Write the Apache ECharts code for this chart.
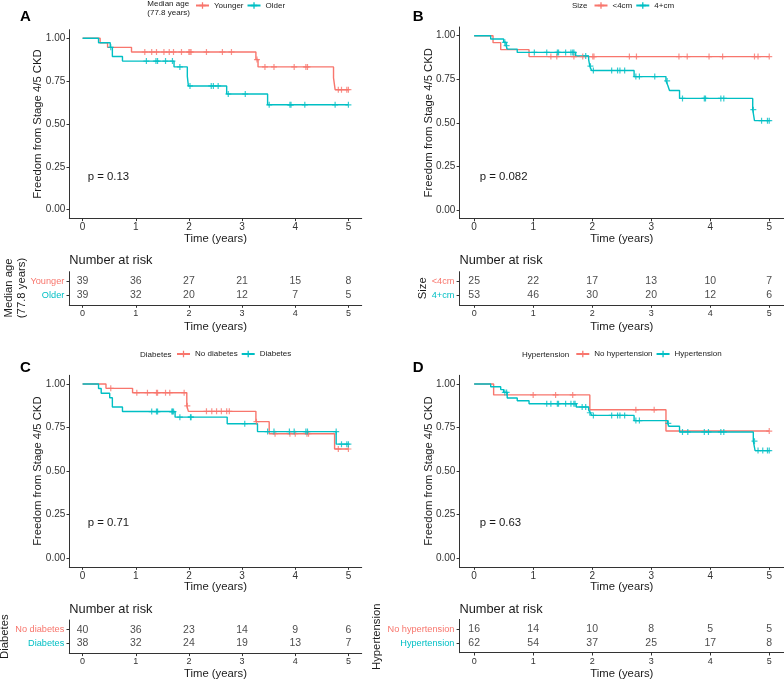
<!DOCTYPE html>
<html>
<head>
<meta charset="utf-8">
<script src="https://cdn.jsdelivr.net/npm/echarts@6/dist/echarts.min.js"></script>
<style>
html,body{margin:0;padding:0;background:#fff;}
#chart{width:784px;height:681px;}
</style>
</head>
<body>
<div id="chart"></div>
<script>
// ---------- data ----------
const timeTicks = [0, 1, 2, 3, 4, 5];
const survTicks = [0, 0.25, 0.5, 0.75, 1];

// Panel A: Median age
const aGroups = ['Younger', 'Older'];
const aYoungerSteps = [[0,1],[0.33,0.974],[0.47,0.947],[0.92,0.92],[3.26,0.876],[3.30,0.833],[4.72,0.769],[4.75,0.70],[5.0,0.70]];
const aYoungerCensor = [[1.17,0.92],[1.30,0.92],[1.39,0.92],[1.53,0.92],[1.63,0.92],[1.71,0.92],[1.86,0.92],[2.00,0.92],[2.02,0.92],[2.04,0.92],[2.33,0.92],[2.63,0.92],[2.80,0.92],[3.28,0.876],[3.43,0.833],[3.60,0.833],[3.98,0.833],[4.20,0.833],[4.23,0.833],[4.81,0.70],[4.87,0.70],[4.97,0.70],[5.0,0.70]];
const aOlderSteps = [[0,1],[0.30,0.974],[0.52,0.947],[0.56,0.894],[0.75,0.867],[1.72,0.833],[1.97,0.778],[1.99,0.722],[2.71,0.675],[3.48,0.612],[5.0,0.612]];
const aOlderCensor = [[0.53,0.947],[1.20,0.867],[1.38,0.867],[1.41,0.867],[1.56,0.867],[1.69,0.867],[1.83,0.833],[2.02,0.722],[2.42,0.722],[2.46,0.722],[2.55,0.722],[2.74,0.675],[3.06,0.675],[3.51,0.612],[3.90,0.612],[3.92,0.612],[4.18,0.612],[4.75,0.612],[5.0,0.612]];
const aYoungerRisk = [39, 36, 27, 21, 15, 8];
const aOlderRisk = [39, 32, 20, 12, 7, 5];

// Panel B: Size
const bGroups = ['<4cm', '4+cm'];
const bSmallSteps = [[0,1],[0.32,0.96],[0.45,0.92],[0.93,0.88],[5.0,0.88]];
const bSmallCensor = [[1.30,0.88],[1.40,0.88],[1.69,0.88],[1.84,0.88],[2.01,0.88],[2.03,0.88],[2.63,0.88],[2.75,0.88],[3.47,0.88],[3.61,0.88],[3.98,0.88],[4.21,0.88],[4.75,0.88],[4.81,0.88],[5.0,0.88]];
const bLargeSteps = [[0,1],[0.28,0.981],[0.50,0.962],[0.54,0.943],[0.56,0.923],[0.73,0.904],[1.72,0.884],[1.94,0.862],[1.96,0.825],[1.99,0.80],[2.71,0.765],[3.25,0.74],[3.28,0.715],[3.31,0.685],[3.48,0.64],[4.72,0.575],[4.75,0.512],[5.0,0.512]];
const bLargeCensor = [[0.52,0.962],[0.55,0.943],[1.02,0.904],[1.23,0.904],[1.41,0.904],[1.43,0.904],[1.55,0.904],[1.64,0.904],[1.67,0.904],[1.69,0.904],[1.89,0.884],[1.97,0.825],[2.02,0.80],[2.33,0.80],[2.43,0.80],[2.47,0.80],[2.55,0.80],[2.74,0.765],[2.80,0.765],[3.06,0.765],[3.27,0.74],[3.53,0.64],[3.90,0.64],[3.92,0.64],[4.18,0.64],[4.23,0.64],[4.73,0.575],[4.87,0.512],[4.97,0.512],[5.0,0.512]];
const bSmallRisk = [25, 22, 17, 13, 10, 7];
const bLargeRisk = [53, 46, 30, 20, 12, 6];

// Panel C: Diabetes
const cGroups = ['No diabetes', 'Diabetes'];
const cNoSteps = [[0,1],[0.44,0.975],[0.94,0.95],[1.96,0.875],[1.99,0.843],[3.26,0.784],[3.51,0.715],[4.74,0.627],[5.0,0.627]];
const cNoCensor = [[0.53,0.975],[1.02,0.95],[1.22,0.95],[1.39,0.95],[1.41,0.95],[1.56,0.95],[1.64,0.95],[1.91,0.95],[1.97,0.875],[2.33,0.843],[2.43,0.843],[2.52,0.843],[2.61,0.843],[2.71,0.843],[2.76,0.843],[3.27,0.784],[3.62,0.715],[3.90,0.715],[4.0,0.715],[4.22,0.715],[4.25,0.715],[4.81,0.627],[5.0,0.627]];
const cDiabSteps = [[0,1],[0.30,0.974],[0.35,0.947],[0.51,0.921],[0.56,0.868],[0.75,0.842],[1.74,0.81],[2.72,0.772],[3.29,0.727],[4.77,0.655],[5.0,0.655]];
const cDiabCensor = [[1.30,0.842],[1.39,0.842],[1.41,0.842],[1.68,0.842],[1.69,0.842],[1.71,0.842],[1.83,0.81],[2.03,0.81],[2.04,0.81],[3.05,0.772],[3.48,0.727],[3.60,0.727],[3.89,0.727],[3.98,0.727],[4.20,0.727],[4.23,0.727],[4.77,0.727],[4.87,0.655],[4.97,0.655],[5.0,0.655]];
const cNoRisk = [40, 36, 23, 14, 9, 6];
const cDiabRisk = [38, 32, 24, 19, 13, 7];

// Panel D: Hypertension
const dGroups = ['No hypertension', 'Hypertension'];
const dNoSteps = [[0,1],[0.33,0.9375],[1.96,0.852],[3.25,0.73],[5.0,0.73]];
const dNoCensor = [[1.0,0.9375],[1.38,0.9375],[1.67,0.9375],[2.74,0.852],[3.05,0.852],[5.0,0.73]];
const dHypSteps = [[0,1],[0.28,0.984],[0.45,0.968],[0.50,0.952],[0.56,0.92],[0.73,0.904],[0.93,0.887],[1.73,0.868],[1.94,0.85],[1.97,0.835],[1.99,0.82],[2.71,0.79],[3.28,0.774],[3.30,0.758],[3.48,0.725],[4.73,0.672],[4.76,0.618],[5.0,0.618]];
const dHypCensor = [[0.52,0.952],[0.55,0.952],[1.23,0.887],[1.30,0.887],[1.41,0.887],[1.43,0.887],[1.55,0.887],[1.64,0.887],[1.69,0.887],[1.71,0.887],[1.83,0.868],[1.89,0.868],[1.96,0.835],[2.02,0.82],[2.33,0.82],[2.43,0.82],[2.47,0.82],[2.55,0.82],[2.74,0.79],[2.80,0.79],[3.29,0.774],[3.53,0.725],[3.62,0.725],[3.90,0.725],[3.97,0.725],[4.18,0.725],[4.23,0.725],[4.75,0.672],[4.81,0.618],[4.89,0.618],[4.97,0.618],[5.0,0.618]];
const dNoRisk = [16, 14, 10, 8, 5, 5];
const dHypRisk = [62, 54, 37, 25, 17, 8];

const pValues = ['p = 0.13', 'p = 0.082', 'p = 0.71', 'p = 0.63'];
const panelLetters = ['A', 'B', 'C', 'D'];
const legendTitles = ['Median age\n(77.8 years)', 'Size', 'Diabetes', 'Hypertension'];
const riskTitles = ['Median age\n(77.8 years)', 'Size', 'Diabetes', 'Hypertension'];
const yTitle = 'Freedom from Stage 4/5 CKD';
const xTitle = 'Time (years)';
const riskHeader = 'Number at risk';

// ---------- styling / layout ----------
const FONT = '"Liberation Sans", Arial, Helvetica, sans-serif';
const RED = '#F8766D', TEAL = '#00BFC4';
const INK = '#1a1a1a', AXIS = '#333333';
const PLUS = 'path://M0,4H10V6H0Z M4,0H6V10H4Z';

const panels = [
  { groups: aGroups, steps: [aYoungerSteps, aOlderSteps], censor: [aYoungerCensor, aOlderCensor], risk: [aYoungerRisk, aOlderRisk],
    km: {left: 69.3, top: 29.7, width: 292.4, height: 188.6}, rk: {left: 69.3, top: 271.7, width: 292.4, height: 33.3},
    legend: {left: 195, top: 1.5}, legendTitle: {x: 147.3, y: 8.2}, letter: {x: 20, y: 17.3}, p: {x: 87.7, y: 176.7},
    yTitle: {x: 38.3}, xTitleY: 239, riskHeaderY: 260.7, riskXTitleY: 326.7, riskTitle: {x: 15, y: 288} },
  { groups: bGroups, steps: [bSmallSteps, bLargeSteps], censor: [bSmallCensor, bLargeCensor], risk: [bSmallRisk, bLargeRisk],
    km: {left: 459.4, top: 27, width: 324.9, height: 191.5}, rk: {left: 459.4, top: 271.7, width: 324.9, height: 33.3},
    legend: {left: 593.5, top: 1.5}, legendTitle: {x: 572, y: 5.7}, letter: {x: 412.7, y: 17.3}, p: {x: 479.7, y: 176.7},
    yTitle: {x: 428.7}, xTitleY: 239, riskHeaderY: 260.7, riskXTitleY: 326.7, riskTitle: {x: 422.7, y: 288.3} },
  { groups: cGroups, steps: [cNoSteps, cDiabSteps], censor: [cNoCensor, cDiabCensor], risk: [cNoRisk, cDiabRisk],
    km: {left: 69.3, top: 375.3, width: 292.4, height: 191.7}, rk: {left: 69.3, top: 620, width: 292.4, height: 33.3},
    legend: {left: 176, top: 350}, legendTitle: {x: 140, y: 354.3}, letter: {x: 20, y: 368.3}, p: {x: 87.7, y: 523.3},
    yTitle: {x: 38.3}, xTitleY: 587.3, riskHeaderY: 609.3, riskXTitleY: 674.3, riskTitle: {x: 5, y: 636.7} },
  { groups: dGroups, steps: [dNoSteps, dHypSteps], censor: [dNoCensor, dHypCensor], risk: [dNoRisk, dHypRisk],
    km: {left: 459.4, top: 375.3, width: 324.9, height: 191.7}, rk: {left: 459.4, top: 619.4, width: 324.9, height: 33.3},
    legend: {left: 575.3, top: 350}, legendTitle: {x: 522, y: 354.3}, letter: {x: 412.7, y: 368.3}, p: {x: 479.7, y: 523.3},
    yTitle: {x: 428.7}, xTitleY: 587.3, riskHeaderY: 609.3, riskXTitleY: 674.3, riskTitle: {x: 376.7, y: 636.7} }
];

const colors = [RED, TEAL];
const grid = [], xAxis = [], yAxis = [], series = [], legend = [], graphic = [];

function txt(x, y, text, size, opts) {
  opts = opts || {};
  const align = opts.align || 'left';
  return {
    type: 'text', x: x, y: y, rotation: opts.rotation || 0, silent: true, z: 100,
    style: {
      text: text, fontSize: size, fontFamily: FONT, fontWeight: opts.bold ? 'bold' : 'normal',
      fill: opts.color || INK, align: align, verticalAlign: 'middle',
      textAlign: align, textVerticalAlign: 'middle', lineHeight: opts.lineHeight || size * 1.15
    }
  };
}

panels.forEach((p, i) => {
  const gKM = 2 * i, gRK = 2 * i + 1;
  grid.push(Object.assign({containLabel: false}, p.km));
  grid.push(Object.assign({containLabel: false}, p.rk));

  const axisLine = {show: true, onZero: false, lineStyle: {color: AXIS, width: 1}};
  const mkX = (gi, fs, margin) => ({
    type: 'value', gridIndex: gi, min: -0.25, max: 5.25, position: 'bottom',
    axisLine: axisLine, splitLine: {show: false},
    axisTick: {show: true, length: 2.8, customValues: timeTicks, lineStyle: {color: AXIS}},
    axisLabel: {customValues: timeTicks, fontSize: fs, fontFamily: FONT, color: AXIS, margin: margin}
  });
  xAxis.push(mkX(gKM, 10, 4));
  xAxis.push(mkX(gRK, 9, 4));

  yAxis.push({
    type: 'value', gridIndex: gKM, min: -0.05, max: 1.05, position: 'left',
    axisLine: axisLine, splitLine: {show: false},
    axisTick: {show: true, length: 2.8, customValues: survTicks, lineStyle: {color: AXIS}},
    axisLabel: {customValues: survTicks, fontSize: 10, fontFamily: FONT, color: AXIS, margin: 4,
      formatter: v => Number(v).toFixed(2)}
  });
  const g0 = p.groups[0], g1 = p.groups[1];
  yAxis.push({
    type: 'value', gridIndex: gRK, min: -0.7, max: 1.7, position: 'left',
    axisLine: axisLine, splitLine: {show: false},
    axisTick: {show: true, length: 2.8, customValues: [0, 1], lineStyle: {color: AXIS}},
    axisLabel: {customValues: [0, 1], margin: 5, fontFamily: FONT,
      formatter: v => (Number(v) === 1 ? '{a|' + g0 + '}' : '{b|' + g1 + '}'),
      rich: {a: {color: RED, fontSize: 9.2, fontFamily: FONT}, b: {color: TEAL, fontSize: 9.2, fontFamily: FONT}}}
  });

  [0, 1].forEach(k => {
    series.push({
      name: p.groups[k], type: 'line', step: 'end', xAxisIndex: gKM, yAxisIndex: gKM,
      data: p.steps[k], showSymbol: false, symbol: PLUS, symbolSize: 6,
      lineStyle: {color: colors[k], width: 1.4}, itemStyle: {color: colors[k]},
      animation: false, silent: true, z: 2 + k
    });
  });
  [0, 1].forEach(k => {
    series.push({
      name: p.groups[k] + ' censored', type: 'scatter', xAxisIndex: gKM, yAxisIndex: gKM,
      data: p.censor[k], symbol: PLUS, symbolSize: 6,
      itemStyle: {color: colors[k]}, animation: false, silent: true, z: 4 + k
    });
  });
  const riskData = [];
  timeTicks.forEach((t, j) => {
    riskData.push([t, 1, p.risk[0][j]]);
    riskData.push([t, 0, p.risk[1][j]]);
  });
  series.push({
    name: 'risk' + i, type: 'scatter', xAxisIndex: gRK, yAxisIndex: gRK,
    data: riskData, symbolSize: 0, animation: false, silent: true,
    label: {show: true, position: 'inside', formatter: q => String(q.value[2]),
      fontSize: 10.5, fontFamily: FONT, color: INK}
  });

  legend.push({
    data: p.groups, left: p.legend.left, top: p.legend.top, orient: 'horizontal',
    itemWidth: 13, itemHeight: 8, itemGap: 3, padding: 0, selectedMode: false,
    textStyle: {fontSize: 8, fontFamily: FONT, color: INK, padding: [0, 0, 0, 0]}
  });

  // texts
  graphic.push(txt(p.legendTitle.x, p.legendTitle.y, legendTitles[i], 8, {lineHeight: 9.2}));
  graphic.push(txt(p.letter.x, p.letter.y, panelLetters[i], 15, {bold: true, color: '#000'}));
  graphic.push(txt(p.p.x, p.p.y, pValues[i], 11.4));
  const kmMidY = p.km.top + p.km.height / 2;
  graphic.push(txt(p.yTitle.x, kmMidY, yTitle, 11.3, {align: 'center', rotation: Math.PI / 2}));
  const xMid = p.km.left + p.km.width / 2;
  graphic.push(txt(xMid, p.xTitleY, xTitle, 11.3, {align: 'center'}));
  graphic.push(txt(p.rk.left, p.riskHeaderY, riskHeader, 12.8));
  graphic.push(txt(xMid, p.riskXTitleY, xTitle, 11.3, {align: 'center'}));
  graphic.push(txt(p.riskTitle.x, p.riskTitle.y, riskTitles[i], 11.3, {align: 'center', rotation: Math.PI / 2, lineHeight: 13}));
});

const chart = echarts.init(document.getElementById('chart'), null, {renderer: 'canvas'});
chart.setOption({
  backgroundColor: '#ffffff',
  animation: false,
  grid: grid, xAxis: xAxis, yAxis: yAxis, series: series, legend: legend,
  graphic: {elements: graphic}
});
</script>
</body>
</html>
